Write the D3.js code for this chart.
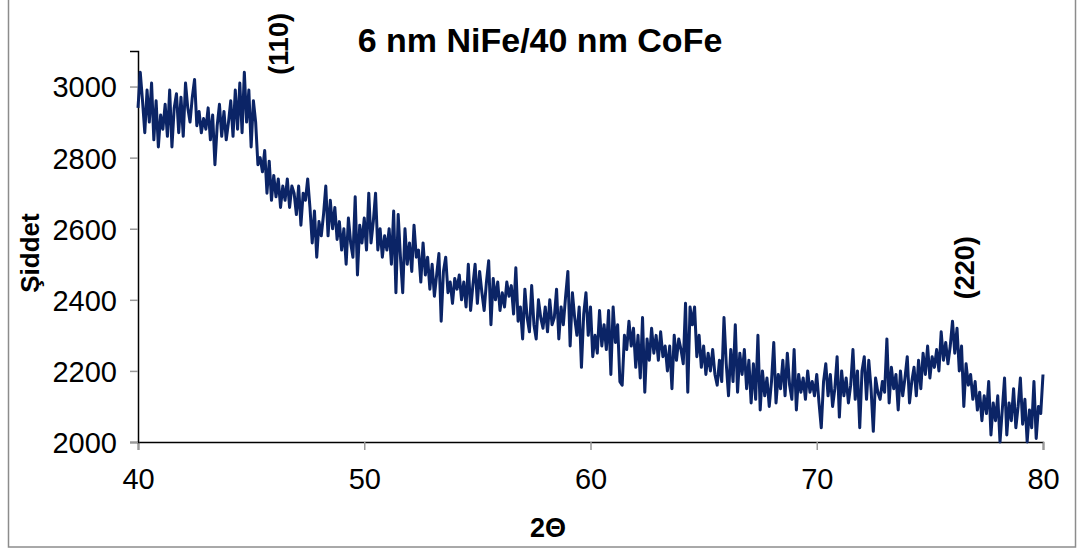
<!DOCTYPE html>
<html>
<head>
<meta charset="utf-8">
<script src="https://cdn.jsdelivr.net/npm/d3@7"></script>
<style>
  body { margin: 0; background: #fff; }
  svg { display: block; font-family: "Liberation Sans", Arial, sans-serif; }
</style>
</head>
<body>
<div id="chart"></div>
<script>
// 2-theta from 40 to 80, step 0.1
const xStart = 40;
const xStep = 0.1;

const intensity = [
  2940, 3040, 2960, 2870, 2990, 2900, 3010, 2850, 2960, 2830,
  2920, 2880, 2950, 2860, 2990, 2830, 2940, 2980, 2870, 2970,
  2860, 3010, 2940, 2900, 2970, 3020, 2890, 2930, 2870, 2910,
  2880, 2940, 2850, 2920, 2780, 2890, 2950, 2860, 2930, 2850,
  2900, 2960, 2860, 2990, 2880, 3010, 2870, 3040, 2900, 2990,
  2830, 2960, 2900, 2780, 2800, 2760, 2820, 2700, 2790, 2680,
  2750, 2690, 2740, 2660, 2720, 2680, 2740, 2660, 2720, 2700,
  2640, 2720, 2610, 2700, 2680, 2740, 2660, 2560, 2650, 2520,
  2620, 2580, 2640, 2720, 2580, 2680, 2600, 2660, 2570, 2620,
  2540, 2600, 2500, 2630, 2560, 2520, 2690, 2470, 2610, 2560,
  2630, 2540, 2700, 2560, 2620, 2700, 2540, 2600, 2520, 2580,
  2540, 2600, 2500, 2650, 2420, 2640, 2520, 2420, 2600, 2500,
  2560, 2480, 2610, 2520, 2540, 2450, 2560, 2470, 2520, 2430,
  2500, 2410, 2470, 2530, 2340, 2480, 2520, 2420, 2450, 2390,
  2460, 2430, 2470, 2400, 2450, 2380, 2500, 2370, 2440, 2500,
  2390, 2480, 2420, 2370, 2450, 2510, 2330, 2460, 2400, 2450,
  2370, 2420, 2380, 2450, 2410, 2440, 2360, 2490, 2340, 2380,
  2290, 2430, 2350, 2310, 2440, 2330, 2290, 2400, 2350, 2320,
  2380, 2310, 2400, 2330, 2350, 2430, 2290, 2380, 2330, 2410,
  2480, 2270, 2420, 2350, 2300, 2380, 2210, 2360, 2420, 2300,
  2380, 2240, 2300, 2250, 2370, 2270, 2330, 2260, 2370, 2190,
  2380, 2280, 2330, 2170, 2160, 2300, 2260, 2340, 2270, 2320,
  2210, 2300, 2180, 2350, 2140, 2290, 2230, 2320, 2250, 2300,
  2230, 2310, 2240, 2270, 2200, 2270, 2150, 2300, 2230, 2290,
  2260, 2220, 2390, 2140, 2380, 2330, 2380, 2240, 2300, 2210,
  2270, 2190, 2250, 2200, 2260, 2190, 2160, 2230, 2170, 2350,
  2220, 2130, 2260, 2170, 2330, 2140, 2250, 2190, 2260, 2150,
  2230, 2110, 2220, 2120, 2300, 2090, 2200, 2130, 2180, 2100,
  2170, 2280, 2110, 2190, 2150, 2230, 2130, 2250, 2160, 2120,
  2260, 2090, 2190, 2140, 2180, 2120, 2200, 2140, 2170, 2130,
  2190, 2110, 2040, 2170, 2220, 2130, 2190, 2100, 2150, 2240,
  2070, 2200, 2130, 2180, 2110, 2160, 2260, 2120, 2200, 2040,
  2200, 2240, 2120, 2230, 2150, 2030, 2180, 2140, 2120, 2170,
  2140, 2290, 2110, 2210, 2150, 2190, 2090, 2200, 2130, 2180,
  2240, 2110, 2170, 2210, 2130, 2230, 2150, 2250, 2190, 2270,
  2180, 2240, 2210, 2260, 2200, 2310, 2230, 2280, 2220, 2270,
  2340, 2250, 2320, 2200, 2270, 2100, 2220, 2160, 2190, 2120,
  2170, 2090, 2140, 2060, 2130, 2080, 2170, 2020, 2110, 2060,
  2130, 2000, 2090, 2180, 2020, 2110, 2060, 2150, 2040, 2100,
  2180, 2050, 2120, 2000, 2090, 2040, 2170, 2010, 2100, 2080,
  2190
];

const xTicks = [40, 50, 60, 70, 80];
const yTicks = [2000, 2200, 2400, 2600, 2800, 3000];
const peakLabels = [
  { text: "(110)", angle: 46.2, value: 3120 },
  { text: "(220)", angle: 76.5, value: 2490 }
];

const data = intensity.map((v, i) => ({ x: xStart + i * xStep, y: v }));

const w = 1080, h = 552;
const svg = d3.select("#chart").append("svg")
  .attr("width", w)
  .attr("height", h);

svg.append("rect")
  .attr("width", w).attr("height", h)
  .attr("fill", "#fff");

// outer chart border
svg.append("rect")
  .attr("x", 8.5).attr("y", -1)
  .attr("width", 1067).attr("height", 548)
  .attr("fill", "none")
  .attr("stroke", "#8c8c8c")
  .attr("stroke-width", 1.5);

const xScale = d3.scaleLinear().domain([40, 80]).range([138, 1043]);
const yScale = d3.scaleLinear().domain([2000, 3100]).range([442, 51]);

// axes
const xAxis = d3.axisBottom(xScale).tickValues(xTicks).tickFormat(d3.format("d"))
  .tickSize(8).tickPadding(18);
const gx = svg.append("g")
  .attr("transform", `translate(0,${yScale(2000)})`)
  .call(xAxis);

const yAxis = d3.axisLeft(yScale).tickValues(yTicks).tickFormat(d3.format("d"))
  .tickSize(8).tickPadding(13);
const gy = svg.append("g")
  .attr("transform", `translate(${xScale(40)},0)`)
  .call(yAxis);

[gx, gy].forEach(g => {
  g.select(".domain").attr("stroke", "#000").attr("stroke-width", 1.5);
  g.selectAll(".tick line").attr("stroke", "#999").attr("stroke-width", 1.5);
  g.selectAll(".tick text")
    .attr("fill", "#000")
    .style("font-size", "29px")
    .style("font-family", "'Liberation Sans', Arial, sans-serif");
});
gy.selectAll(".tick text").attr("dy", "0.36em");

// data line
const line = d3.line()
  .x(d => xScale(d.x))
  .y(d => yScale(Math.max(d.y, 2000)));

svg.append("path")
  .datum(data)
  .attr("fill", "none")
  .attr("stroke", "#0b2466")
  .attr("stroke-width", 3)
  .attr("stroke-linejoin", "round")
  .attr("d", line);

// title
svg.append("text")
  .attr("x", 540)
  .attr("y", 52)
  .attr("text-anchor", "middle")
  .style("font-size", "34px")
  .style("font-weight", "bold")
  .text("6 nm NiFe/40 nm CoFe");

// axis titles
svg.append("text")
  .attr("x", 548)
  .attr("y", 537)
  .attr("text-anchor", "middle")
  .style("font-size", "27px")
  .style("font-weight", "bold")
  .text("2Θ");

svg.append("text")
  .attr("transform", `translate(39,253) rotate(-90)`)
  .attr("text-anchor", "middle")
  .style("font-size", "26px")
  .style("font-weight", "bold")
  .text("Şiddet");

// peak annotations
svg.selectAll(".peak")
  .data(peakLabels)
  .enter()
  .append("text")
  .attr("class", "peak")
  .attr("transform", d => `translate(${xScale(d.angle) + 10},${yScale(d.value)}) rotate(-90)`)
  .attr("text-anchor", "middle")
  .style("font-size", "27px")
  .style("font-weight", "bold")
  .text(d => d.text);
</script>
</body>
</html>
